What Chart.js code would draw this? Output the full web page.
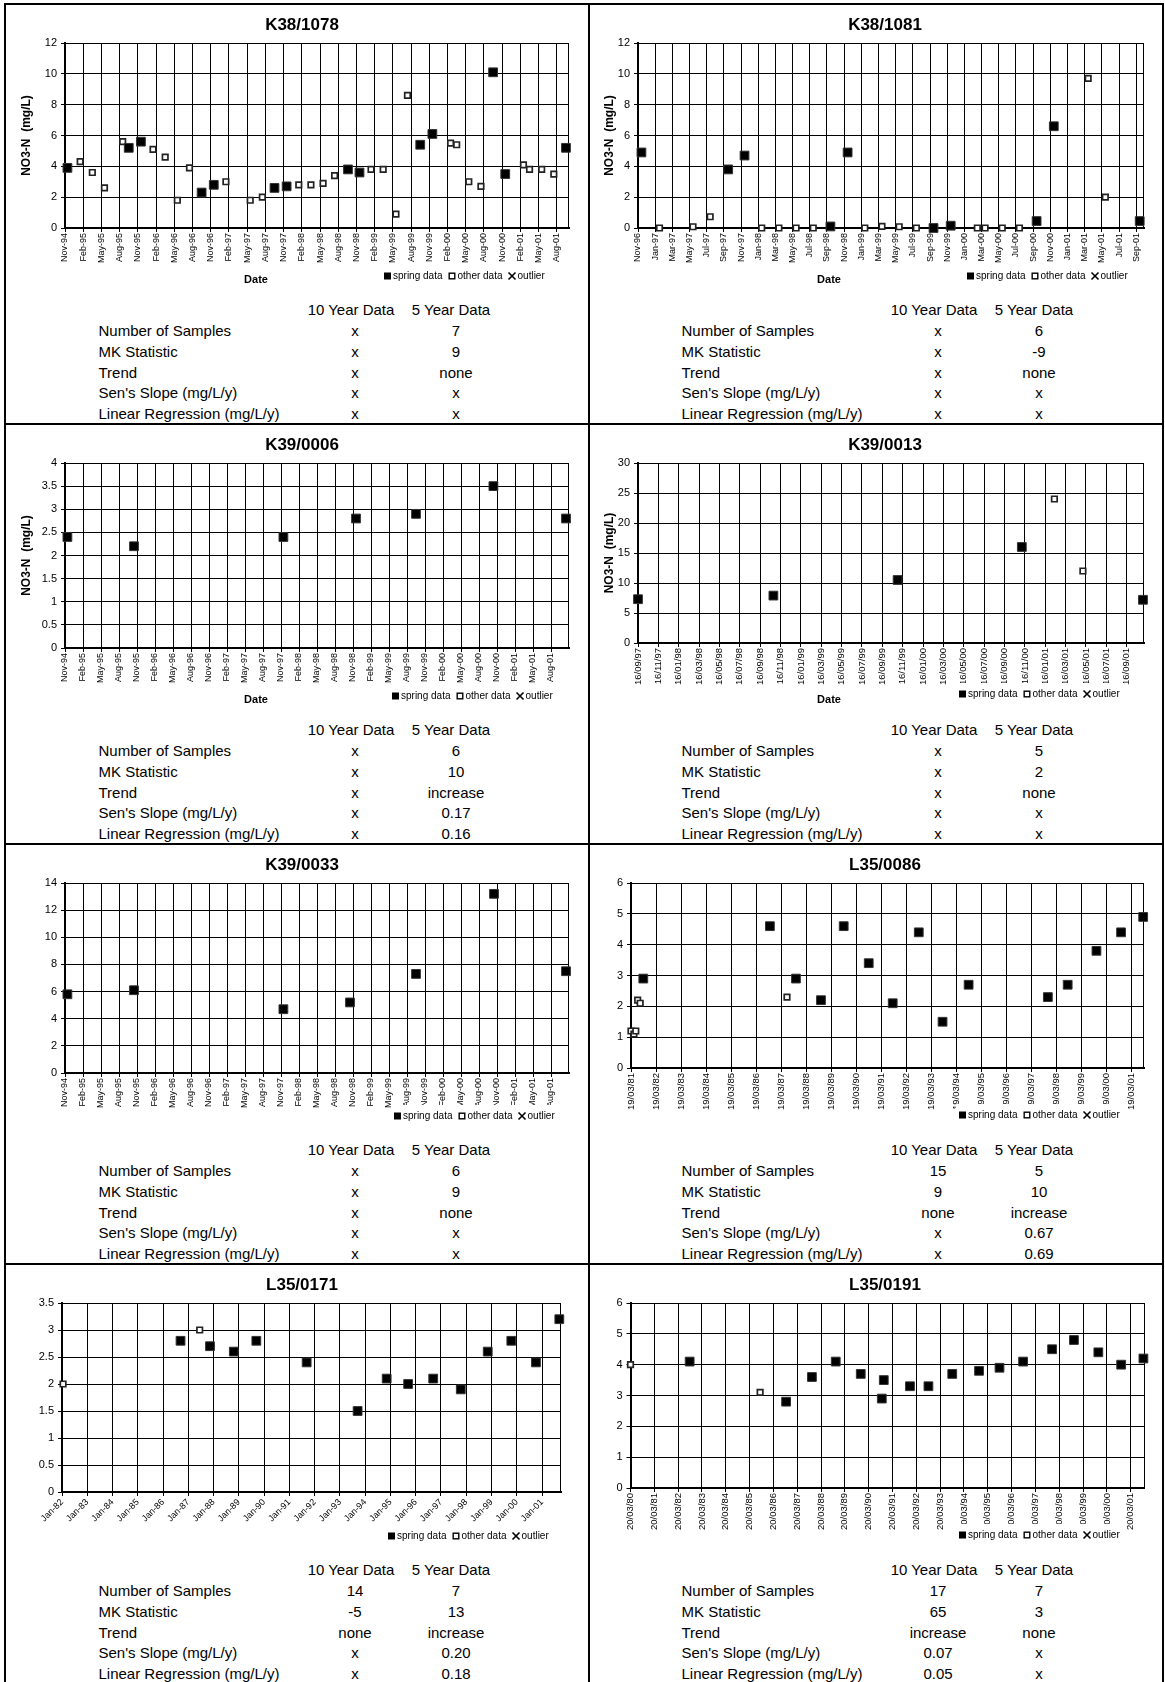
<!DOCTYPE html>
<html>
<head>
<meta charset="utf-8">
<script src="https://cdn.jsdelivr.net/npm/chart.js@4.4.1/dist/chart.umd.min.js"></script>
<style>
html,body{margin:0;padding:0;background:#fff;}
body{width:1165px;height:1682px;position:relative;overflow:hidden;font-family:'Liberation Sans',Arial,sans-serif;color:#000;}
.line{position:absolute;background:#000;}
canvas{position:absolute;}
.title{position:absolute;font-weight:bold;font-size:17px;transform:translate(-50%,-50%);white-space:nowrap;}
.cell{position:absolute;font-size:15px;white-space:nowrap;transform:translateY(-50%);}
.mid{transform:translate(-50%,-50%);}
</style>
</head>
<body>
<script>
// tick labels
const months94 = ['Nov-94','Feb-95','May-95','Aug-95','Nov-95','Feb-96','May-96','Aug-96','Nov-96','Feb-97','May-97','Aug-97','Nov-97','Feb-98','May-98','Aug-98','Nov-98','Feb-99','May-99','Aug-99','Nov-99','Feb-00','May-00','Aug-00','Nov-00','Feb-01','May-01','Aug-01'];
const months96 = ['Nov-96','Jan-97','Mar-97','May-97','Jul-97','Sep-97','Nov-97','Jan-98','Mar-98','May-98','Jul-98','Sep-98','Nov-98','Jan-99','Mar-99','May-99','Jul-99','Sep-99','Nov-99','Jan-00','Mar-00','May-00','Jul-00','Sep-00','Nov-00','Jan-01','Mar-01','May-01','Jul-01','Sep-01'];
const days97 = ['16/09/97','16/11/97','16/01/98','16/03/98','16/05/98','16/07/98','16/09/98','16/11/98','16/01/99','16/03/99','16/05/99','16/07/99','16/09/99','16/11/99','16/01/00','16/03/00','16/05/00','16/07/00','16/09/00','16/11/00','16/01/01','16/03/01','16/05/01','16/07/01','16/09/01'];
const years81 = ['19/03/81','19/03/82','19/03/83','19/03/84','19/03/85','19/03/86','19/03/87','19/03/88','19/03/89','19/03/90','19/03/91','19/03/92','19/03/93','19/03/94','19/03/95','19/03/96','19/03/97','19/03/98','19/03/99','19/03/00','19/03/01'];
const years82 = ['Jan-82','Jan-83','Jan-84','Jan-85','Jan-86','Jan-87','Jan-88','Jan-89','Jan-90','Jan-91','Jan-92','Jan-93','Jan-94','Jan-95','Jan-96','Jan-97','Jan-98','Jan-99','Jan-00','Jan-01'];
const years80 = ['20/03/80','20/03/81','20/03/82','20/03/83','20/03/84','20/03/85','20/03/86','20/03/87','20/03/88','20/03/89','20/03/90','20/03/91','20/03/92','20/03/93','20/03/94','20/03/95','20/03/96','20/03/97','20/03/98','20/03/99','20/03/00','20/03/01'];

// x = months after the first tick label
const k381078SpringX = [0.4,10.5,12.5,22.5,24.5,34.5,36.5,46.6,48.5,58.5,60.5,70.5,72.5,82.5];
const k381078SpringY = [3.9,5.2,5.6,2.3,2.8,2.6,2.7,3.8,3.6,5.4,6.1,10.1,3.5,5.2];
const k381078OtherX = [2.5,4.5,6.5,9.5,14.5,16.5,18.5,20.5,26.5,30.5,32.5,38.5,40.5,42.5,44.4,50.4,52.4,54.5,56.4,63.5,64.5,66.5,68.5,75.5,76.5,78.5,80.5];
const k381078OtherY = [4.3,3.6,2.6,5.6,5.1,4.6,1.8,3.9,3.0,1.8,2.0,2.8,2.8,2.9,3.4,3.8,3.8,0.9,8.6,5.5,5.4,3.0,2.7,4.1,3.8,3.8,3.5];

const k381081SpringX = [0.4,10.5,12.4,22.4,24.4,34.4,36.4,46.4,48.4,58.4];
const k381081SpringY = [4.9,3.8,4.7,0.1,4.9,0,0.15,0.45,6.6,0.45];
const k381081OtherX = [2.5,6.4,8.4,14.4,16.4,18.4,20.4,26.4,28.4,30.4,32.4,39.5,40.4,42.4,44.4,52.4,54.4];
const k381081OtherY = [0,0.08,0.73,0,0,0,0,0,0.1,0.08,0,0,0,0,0,9.7,2.0];

const k390006SpringX = [0.4,11.5,36.4,48.5,58.5,71.4,83.5];
const k390006SpringY = [2.4,2.2,2.4,2.8,2.9,3.5,2.8];

const k390013SpringX = [0,13.3,25.5,37.7,49.6];
const k390013SpringY = [7.3,7.9,10.5,16,7.2];
const k390013OtherX = [40.9,43.7];
const k390013OtherY = [24,12];

const k390033SpringX = [0.4,11.5,36.4,47.5,58.5,71.5,83.5];
const k390033SpringY = [5.8,6.1,4.7,5.2,7.3,13.2,7.5];

const l350086SpringX = [5.9,66.6,79.1,91.1,102,114,125.5,138,149.4,161.9,199.9,209.4,223.2,235,245.6];
const l350086SpringY = [2.9,4.6,2.9,2.2,4.6,3.4,2.1,4.4,1.5,2.7,2.3,2.7,3.8,4.4,4.9];
const l350086OtherX = [0,1.4,2.3,3.2,4.4,74.8];
const l350086OtherY = [1.2,1.1,1.2,2.2,2.1,2.3];

const l350171SpringX = [56.3,70.3,81.6,92.3,116.2,140.4,154.2,164.4,176.3,189.4,202.2,213.4,225.1,236.2];
const l350171SpringY = [2.8,2.7,2.6,2.8,2.4,1.5,2.1,2.0,2.1,1.9,2.6,2.8,2.4,3.2];
const l350171OtherX = [0.5,65.4];
const l350171OtherY = [2.0,3.0];

const l350191SpringX = [29.8,78.4,91.4,103.4,116,126.6,127.6,140.8,150.1,162.1,175.6,185.9,197.8,212.4,223.4,235.7,247.2,258.4];
const l350191SpringY = [4.1,2.8,3.6,4.1,3.7,2.9,3.5,3.3,3.3,3.7,3.8,3.9,4.1,4.5,4.8,4.4,4.0,4.2];
const l350191OtherX = [0,65.3];
const l350191OtherY = [4.0,3.1];

// summary tables
const statNames = ['Number of Samples','MK Statistic','Trend',"Sen's Slope (mg/L/y)",'Linear Regression (mg/L/y)'];
const k381078Ten = ['x','x','x','x','x'], k381078Five = ['7','9','none','x','x'];
const k381081Ten = ['x','x','x','x','x'], k381081Five = ['6','-9','none','x','x'];
const k390006Ten = ['x','x','x','x','x'], k390006Five = ['6','10','increase','0.17','0.16'];
const k390013Ten = ['x','x','x','x','x'], k390013Five = ['5','2','none','x','x'];
const k390033Ten = ['x','x','x','x','x'], k390033Five = ['6','9','none','x','x'];
const l350086Ten = ['15','9','none','x','x'], l350086Five = ['5','10','increase','0.67','0.69'];
const l350171Ten = ['14','-5','none','x','x'], l350171Five = ['7','13','increase','0.20','0.18'];
const l350191Ten = ['17','65','increase','0.07','0.05'], l350191Five = ['7','3','none','x','x'];

const FONT = "'Liberation Sans', Arial, sans-serif";

const panels = [
  {name:'K38/1078', col:0, row:0, labels:months94, step:3, xMax:83, yMax:12, yStep:2, sx:k381078SpringX, sy:k381078SpringY, ox:k381078OtherX, oy:k381078OtherY, ten:k381078Ten, five:k381078Five, plot:[65,569,43,228], tickFont:9, rot:90, yTitle:true, legend:[384,276], date:[256,280]},
  {name:'K38/1081', col:1, row:0, labels:months96, step:2, xMax:58.9, yMax:12, yStep:2, sx:k381081SpringX, sy:k381081SpringY, ox:k381081OtherX, oy:k381081OtherY, ten:k381081Ten, five:k381081Five, plot:[55,561,43,228], tickFont:9, rot:90, yTitle:true, legend:[384,276], date:[246,280]},
  {name:'K39/0006', col:0, row:1, labels:months94, step:3, xMax:84, yMax:4, yStep:0.5, sx:k390006SpringX, sy:k390006SpringY, ox:[], oy:[], ten:k390006Ten, five:k390006Five, plot:[65,569,43,228], tickFont:9, rot:90, yTitle:true, legend:[392,276], date:[256,280]},
  {name:'K39/0013', col:1, row:1, labels:days97, step:2, xMax:49.7, yMax:30, yStep:5, sx:k390013SpringX, sy:k390013SpringY, ox:k390013OtherX, oy:k390013OtherY, ten:k390013Ten, five:k390013Five, plot:[55,561,43,223], tickFont:9.5, rot:90, yTitle:true, legend:[376,274], date:[246,280]},
  {name:'K39/0033', col:0, row:2, labels:months94, step:3, xMax:84, yMax:14, yStep:2, sx:k390033SpringX, sy:k390033SpringY, ox:[], oy:[], ten:k390033Ten, five:k390033Five, plot:[65,569,43,233], tickFont:9, rot:90, yTitle:false, legend:[394,276], date:null},
  {name:'L35/0086', col:1, row:2, labels:years81, step:12, xMax:246, yMax:6, yStep:1, sx:l350086SpringX, sy:l350086SpringY, ox:l350086OtherX, oy:l350086OtherY, ten:l350086Ten, five:l350086Five, plot:[48,561,43,228], tickFont:9.5, rot:90, yTitle:false, legend:[376,275], date:null},
  {name:'L35/0171', col:0, row:3, labels:years82, step:12, xMax:237, yMax:3.5, yStep:0.5, sx:l350171SpringX, sy:l350171SpringY, ox:l350171OtherX, oy:l350171OtherY, ten:l350171Ten, five:l350171Five, plot:[62,561,43,232], tickFont:9, rot:45, yTitle:false, legend:[388,276], date:null},
  {name:'L35/0191', col:1, row:3, labels:years80, step:12, xMax:258.7, yMax:6, yStep:1, sx:l350191SpringX, sy:l350191SpringY, ox:l350191OtherX, oy:l350191OtherY, ten:l350191Ten, five:l350191Five, plot:[47.5,561,43,228], tickFont:9.5, rot:90, yTitle:false, legend:[376,275], date:null}
];

// plot frame under the markers, legend + "Date" on top
const panelExtras = {
  id:'panelExtras',
  beforeDatasetsDraw(chart){
    const {ctx, chartArea:a} = chart;
    ctx.save();
    ctx.strokeStyle = '#000'; ctx.lineWidth = 1;
    ctx.strokeRect(Math.round(a.left)+0.5, Math.round(a.top)+0.5, Math.round(a.right-a.left)-1, Math.round(a.bottom-a.top));
    ctx.restore();
  },
  afterDraw(chart, args, opts){
    const ctx = chart.ctx;
    ctx.save();
    ctx.font = '10px ' + FONT;
    const items = chart.data.datasets.map(d => ({label:d.label, style:d.pointStyle, fill:d.backgroundColor}));
    let total = 0;
    items.forEach(it => { it.w = ctx.measureText(it.label).width; total += 7 + 2 + it.w + 6; });
    const [lx, ly] = opts.legend;
    ctx.fillStyle = '#fff';
    ctx.fillRect(lx - 3, ly - 11, total + 2, 18);
    let x = lx;
    items.forEach(it => {
      ctx.strokeStyle = '#000'; ctx.fillStyle = '#000';
      if (it.style === 'crossRot') {
        ctx.lineWidth = 1.6;
        ctx.beginPath();
        ctx.moveTo(x, ly-3.5); ctx.lineTo(x+7, ly+3.5);
        ctx.moveTo(x+7, ly-3.5); ctx.lineTo(x, ly+3.5);
        ctx.stroke();
      } else if (it.fill === '#000') {
        ctx.fillRect(x, ly-3.5, 7, 7);
      } else {
        ctx.lineWidth = 1.4;
        ctx.strokeRect(x+0.7, ly-2.8, 5.6, 5.6);
      }
      ctx.fillStyle = '#000';
      ctx.textAlign = 'left'; ctx.textBaseline = 'middle';
      ctx.fillText(it.label, x + 9, ly + 0.5);
      x += 7 + 2 + it.w + 6;
    });
    if (opts.date) {
      ctx.font = 'bold 11px ' + FONT;
      ctx.textAlign = 'center';
      ctx.fillText('Date', opts.date[0], opts.date[1]);
    }
    ctx.restore();
  }
};

function pts(xs, ys){ return xs.map((x, i) => ({x:x, y:ys[i]})); }

function addBox(cls, left, top, w, h){
  const d = document.createElement('div');
  d.className = cls;
  d.style.left = left+'px'; d.style.top = top+'px'; d.style.width = w+'px'; d.style.height = h+'px';
  document.body.appendChild(d);
}
function addText(cls, text, x, y){
  const d = document.createElement('div');
  d.className = cls; d.textContent = text;
  d.style.left = x+'px'; d.style.top = y+'px';
  document.body.appendChild(d);
}

panels.forEach(p => {
  const ox = p.col ? 583 : 0, oy = p.row * 420;
  const cv = document.createElement('canvas');
  cv.width = 583; cv.height = 300;
  cv.style.left = ox+'px'; cv.style.top = oy+'px';
  document.body.appendChild(cv);

  new Chart(cv, {
    type:'scatter',
    data:{datasets:[
      {label:'spring data', data:pts(p.sx, p.sy), pointStyle:'rect', pointRadius:6.2, pointHoverRadius:6.2, backgroundColor:'#000', borderColor:'#333', borderWidth:1, clip:false},
      {label:'other data', data:pts(p.ox, p.oy), pointStyle:'rect', pointRadius:3.9, pointHoverRadius:3.9, backgroundColor:'#fff', borderColor:'#222', borderWidth:1.7, clip:false},
      {label:'outlier', data:[], pointStyle:'crossRot', pointRadius:4, borderColor:'#000', borderWidth:1.5}
    ]},
    options:{
      responsive:false, animation:false, devicePixelRatio:1, events:[],
      layout:{padding:{left:0, right:583 - p.plot[1], top:p.plot[2], bottom:0}},
      plugins:{legend:{display:false}, tooltip:{enabled:false}, title:{display:false},
        panelExtras:{legend:p.legend, date:p.date}},
      scales:{
        x:{type:'linear', min:0, max:p.xMax,
          afterBuildTicks: s => { s.ticks = p.labels.map((_, i) => ({value:i * p.step})); },
          afterFit: s => { s.height = 300 - p.plot[3]; },
          ticks:{autoSkip:false, minRotation:p.rot, maxRotation:p.rot, padding:1, color:'#000',
            font:{size:p.tickFont, family:FONT},
            callback: v => p.labels[Math.round(v / p.step)]},
          grid:{color:'#000', lineWidth:1, tickLength:4},
          border:{color:'#000', width:2}
        },
        y:{min:0, max:p.yMax,
          afterFit: s => { s.width = p.plot[0]; },
          ticks:{stepSize:p.yStep, padding:4, color:'#000', font:{size:11, family:FONT},
            callback: v => String(Math.round(v * 10) / 10)},
          grid:{color:'#000', lineWidth:1, tickLength:4},
          border:{color:'#000', width:2},
          title:{display:p.yTitle, text:'NO3-N  (mg/L)', color:'#000', font:{size:12, weight:'bold', family:FONT}, padding:{top:19, bottom:0}}
        }
      }
    },
    plugins:[panelExtras]
  });

  addText('title', p.name, ox + 302, oy + 25);
  addText('cell mid', '10 Year Data', ox + 351, oy + 309);
  addText('cell mid', '5 Year Data', ox + 451, oy + 309);
  statNames.forEach((s, i) => {
    const y = oy + 330 + i * 20.75;
    addText('cell', s, ox + 98.5, y);
    addText('cell mid', p.ten[i], ox + 355, y);
    addText('cell mid', p.five[i], ox + 456, y);
  });
});

// panel borders
addBox('line', 4, 3, 1160, 2);
addBox('line', 4, 3, 2, 1679);
addBox('line', 588, 3, 2, 1679);
addBox('line', 1162, 3, 2, 1679);
[423, 843, 1263].forEach(y => addBox('line', 4, y, 1160, 2));
</script>
</body>
</html>
